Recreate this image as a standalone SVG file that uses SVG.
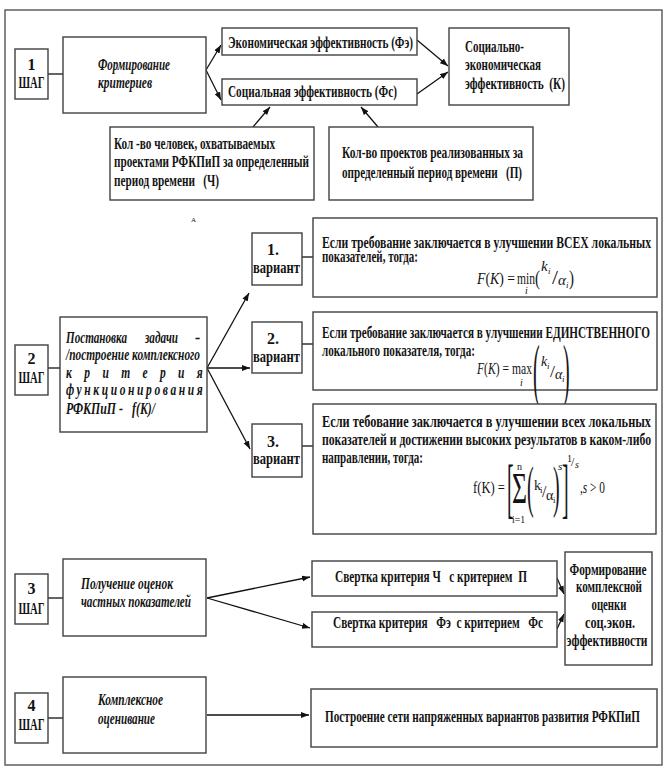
<svg xmlns="http://www.w3.org/2000/svg" width="667" height="775" viewBox="0 0 667 775">
<defs>
<marker id="ah" markerUnits="userSpaceOnUse" markerWidth="9" markerHeight="7" refX="8" refY="3" orient="auto">
<path d="M0,0 L8,3 L0,6 z" fill="#111"/>
</marker>
<style>
.bx{fill:#fff;stroke:#404040;stroke-width:1.4}
.fr{fill:none;stroke:#555;stroke-width:1.4}
text{font-family:"Liberation Serif","Times New Roman",serif;fill:#141414}
.b{font-weight:bold;font-size:16px}
.bi{font-weight:bold;font-style:italic;font-size:16px}
.m{font-size:17px}
.it{font-style:italic}
.p{white-space:pre}
.c{stroke:#111;stroke-width:1.3;fill:none}
.a{marker-end:url(#ah)}
</style>
</defs>
<rect width="667" height="775" fill="#fff"/>
<rect class="fr" x="5" y="10" width="657" height="755"/>

<g id="connectors">
<line class="c" x1="48" y1="74" x2="63" y2="74"/>
<line class="c a" x1="206" y1="70" x2="221" y2="45"/>
<line class="c a" x1="206" y1="70" x2="221" y2="100"/>
<line class="c a" x1="417" y1="40" x2="448" y2="66"/>
<line class="c a" x1="417" y1="94" x2="448" y2="72"/>
<line class="c a" x1="253" y1="127" x2="270" y2="107"/>
<line class="c a" x1="378" y1="127" x2="361" y2="107"/>
<line class="c" x1="48" y1="368" x2="60" y2="368"/>
<line class="c a" x1="207" y1="368" x2="249" y2="293"/>
<line class="c a" x1="207" y1="368" x2="250" y2="368"/>
<line class="c a" x1="207" y1="368" x2="250" y2="449"/>
<line class="c" x1="302" y1="257" x2="313" y2="257"/>
<line class="c" x1="302" y1="344" x2="313" y2="344"/>
<line class="c" x1="302" y1="446" x2="313" y2="446"/>
<line class="c" x1="48" y1="598" x2="63" y2="598"/>
<line class="c a" x1="207" y1="598" x2="310" y2="577"/>
<line class="c a" x1="207" y1="598" x2="310" y2="628"/>
<line class="c a" x1="557" y1="578" x2="564" y2="594"/>
<line class="c a" x1="557" y1="629" x2="564" y2="614"/>
<line class="c" x1="48" y1="718" x2="63" y2="718"/>
<line class="c a" x1="207" y1="715" x2="309" y2="715"/>
</g>

<g id="step1">
<rect class="bx" x="15" y="49" width="33" height="50"/>
<text class="b" x="31.5" y="70" text-anchor="middle">1</text>
<text class="b" x="31.5" y="88" text-anchor="middle" textLength="26" lengthAdjust="spacingAndGlyphs">ШАГ</text>
</g>
<g id="formation">
<rect class="bx" x="63" y="37" width="143" height="76"/>
<text class="bi" x="98" y="70" textLength="72" lengthAdjust="spacingAndGlyphs">Формирование</text>
<text class="bi" x="98" y="88" textLength="54" lengthAdjust="spacingAndGlyphs">критериев</text>
</g>
<g id="econ">
<rect class="bx" x="222" y="28" width="195" height="27"/>
<text class="b" x="228" y="48" textLength="185" lengthAdjust="spacingAndGlyphs">Экономическая эффективность (Фэ)</text>
</g>
<g id="social">
<rect class="bx" x="222" y="79" width="195" height="26"/>
<text class="b" x="228" y="97" textLength="169" lengthAdjust="spacingAndGlyphs">Социальная эффективность (Фс)</text>
</g>
<g id="socecon">
<rect class="bx" x="449" y="28" width="120" height="77"/>
<text class="b" x="465" y="52" textLength="59" lengthAdjust="spacingAndGlyphs">Социально-</text>
<text class="b" x="465" y="70" textLength="76" lengthAdjust="spacingAndGlyphs">экономическая</text>
<text class="b p" x="465" y="89" textLength="100" lengthAdjust="spacingAndGlyphs" xml:space="preserve">эффективность  (К)</text>
</g>
<g id="people">
<rect class="bx" x="110" y="127" width="204" height="73"/>
<text class="b" x="114" y="149" textLength="161" lengthAdjust="spacingAndGlyphs">Кол -во человек, охватываемых</text>
<text class="b" x="114" y="167" textLength="195" lengthAdjust="spacingAndGlyphs">проектами РФКПиП за определенный</text>
<text class="b p" x="114" y="186" textLength="105" lengthAdjust="spacingAndGlyphs" xml:space="preserve">период времени   (Ч)</text>
</g>
<g id="projects">
<rect class="bx" x="329" y="127" width="204" height="73"/>
<text class="b" x="342" y="158" textLength="181" lengthAdjust="spacingAndGlyphs">Кол-во проектов реализованных за</text>
<text class="b p" x="342" y="178" textLength="180" lengthAdjust="spacingAndGlyphs" xml:space="preserve">определенный период времени   (П)</text>
</g>
<text x="191" y="222" font-size="7">А</text>

<g id="step2">
<rect class="bx" x="15" y="345" width="33" height="50"/>
<text class="b" x="31.5" y="364" text-anchor="middle">2</text>
<text class="b" x="31.5" y="383" text-anchor="middle" textLength="26" lengthAdjust="spacingAndGlyphs">ШАГ</text>
</g>
<g id="task">
<rect class="bx" x="60" y="317" width="147" height="115"/>
<text class="bi" x="66" y="343" textLength="61" lengthAdjust="spacingAndGlyphs">Постановка</text>
<text class="bi" x="145" y="343" textLength="33" lengthAdjust="spacingAndGlyphs">задачи</text>
<text class="bi" x="195" y="343">-</text>
<text class="bi" x="66" y="360" textLength="134" lengthAdjust="spacingAndGlyphs">/построение комплексного</text>
<text class="bi" transform="translate(66,378) scale(0.72,1)" x="0" y="0" textLength="190" lengthAdjust="spacing">критерия</text>
<text class="bi" transform="translate(66,395) scale(0.72,1)" x="0" y="0" textLength="190" lengthAdjust="spacing">функционирования</text>
<text class="bi" x="66" y="414" textLength="57" lengthAdjust="spacingAndGlyphs">РФКПиП -</text>
<text class="bi" x="132" y="414" textLength="23" lengthAdjust="spacingAndGlyphs">f(K)/</text>
</g>
<g id="var1">
<rect class="bx" x="252" y="233" width="50" height="52"/>
<text class="b" x="273" y="255" text-anchor="middle">1.</text>
<text class="b" x="253" y="273" textLength="47" lengthAdjust="spacingAndGlyphs">вариант</text>
</g>
<g id="var2">
<rect class="bx" x="252" y="322" width="50" height="51"/>
<text class="b" x="273" y="344" text-anchor="middle">2.</text>
<text class="b" x="253" y="362" textLength="47" lengthAdjust="spacingAndGlyphs">вариант</text>
</g>
<g id="var3">
<rect class="bx" x="252" y="424" width="50" height="53"/>
<text class="b" x="273" y="447" text-anchor="middle">3.</text>
<text class="b" x="253" y="464" textLength="47" lengthAdjust="spacingAndGlyphs">вариант</text>
</g>
<g id="cond1">
<rect class="bx" x="313" y="218" width="344" height="79"/>
<text class="b" x="322" y="248" textLength="329" lengthAdjust="spacingAndGlyphs">Если требование заключается в улучшении ВСЕХ локальных</text>
<text class="b" x="322" y="262" textLength="96" lengthAdjust="spacingAndGlyphs">показателей, тогда:</text>
<text class="m" x="477" y="284" textLength="38" lengthAdjust="spacingAndGlyphs"><tspan class="it">F</tspan>(<tspan class="it">K</tspan>) =</text>
<text class="m" x="517" y="284" textLength="18" lengthAdjust="spacingAndGlyphs">min</text>
<text class="it" x="525" y="294" font-size="10">i</text>
<text x="535" y="285" font-size="22" textLength="5" lengthAdjust="spacingAndGlyphs">(</text>
<text class="it" x="541" y="271" font-size="15">k</text>
<text class="it" x="548" y="274" font-size="9">i</text>
<text x="552" y="284" font-size="18" textLength="6" lengthAdjust="spacingAndGlyphs">/</text>
<text class="it" x="558" y="285" font-size="15">α</text>
<text class="it" x="566" y="288" font-size="9">i</text>
<text x="569" y="285" font-size="22" textLength="5" lengthAdjust="spacingAndGlyphs">)</text>
</g>
<g id="cond2">
<rect class="bx" x="313" y="312" width="344" height="78"/>
<text class="b" x="322" y="338" textLength="328" lengthAdjust="spacingAndGlyphs">Если требование заключается в улучшении ЕДИНСТВЕННОГО</text>
<text class="b" x="322" y="356" textLength="153" lengthAdjust="spacingAndGlyphs">локального показателя, тогда:</text>
<text class="m" x="477" y="374" textLength="32" lengthAdjust="spacingAndGlyphs"><tspan class="it">F</tspan>(<tspan class="it">K</tspan>) =</text>
<text class="m" x="512" y="374" textLength="20" lengthAdjust="spacingAndGlyphs">max</text>
<text class="it" x="520" y="386" font-size="10">i</text>
<text transform="translate(533,393) scale(1,3.5)" font-size="20">(</text>
<text class="it" x="541" y="366" font-size="14">k</text>
<text class="it" x="547" y="369" font-size="9">i</text>
<text x="550" y="377" font-size="17" textLength="5" lengthAdjust="spacingAndGlyphs">/</text>
<text class="it" x="555" y="379" font-size="14">α</text>
<text class="it" x="562" y="382" font-size="9">i</text>
<text transform="translate(563,393) scale(1,3.5)" font-size="20">)</text>
</g>
<g id="cond3">
<rect class="bx" x="313" y="404" width="343" height="130"/>
<text class="b" x="322" y="427" textLength="329" lengthAdjust="spacingAndGlyphs">Если тебование заключается в улучшении всех локальных</text>
<text class="b" x="322" y="445" textLength="329" lengthAdjust="spacingAndGlyphs">показателей и достижении высоких результатов в каком-либо</text>
<text class="b" x="322" y="463" textLength="101" lengthAdjust="spacingAndGlyphs">направлении, тогда:</text>
<text class="m" x="473" y="493" textLength="32" lengthAdjust="spacingAndGlyphs">f(K) =</text>
<text transform="translate(507,510) scale(1,3.25)" font-size="20">[</text>
<text x="512" y="503" font-size="44" textLength="15" lengthAdjust="spacingAndGlyphs">Σ</text>
<text x="517" y="470" font-size="10">n</text>
<text x="512" y="523" font-size="10" textLength="13" lengthAdjust="spacingAndGlyphs">i=1</text>
<text transform="translate(527,506) scale(1,2.8)" font-size="20">(</text>
<text x="534" y="490" font-size="14">k</text>
<text x="540" y="493" font-size="9">i</text>
<text x="542" y="497" font-size="16">/</text>
<text x="546" y="500" font-size="14">α</text>
<text x="553" y="503" font-size="9">i</text>
<text transform="translate(553,506) scale(1,2.8)" font-size="20">)</text>
<text class="it" x="558" y="470" font-size="11">s</text>
<text transform="translate(562,510) scale(1,3.25)" font-size="20">]</text>
<text x="567" y="462" font-size="10">1</text>
<text x="571" y="466" font-size="12">/</text>
<text class="it" x="575" y="468" font-size="10">s</text>
<text class="m" x="580" y="493" textLength="25" lengthAdjust="spacingAndGlyphs">,<tspan class="it">s</tspan> &gt; 0</text>
</g>

<g id="step3">
<rect class="bx" x="15" y="574" width="33" height="50"/>
<text class="b" x="31.5" y="594" text-anchor="middle">3</text>
<text class="b" x="31.5" y="614" text-anchor="middle" textLength="26" lengthAdjust="spacingAndGlyphs">ШАГ</text>
</g>
<g id="estimates">
<rect class="bx" x="63" y="559" width="143" height="77"/>
<text class="bi" x="81" y="589" textLength="92" lengthAdjust="spacingAndGlyphs">Получение оценок</text>
<text class="bi" x="81" y="607" textLength="110" lengthAdjust="spacingAndGlyphs">частных показателей</text>
</g>
<g id="conv1">
<rect class="bx" x="312" y="561" width="245" height="35"/>
<text class="b p" x="335" y="582" textLength="192" lengthAdjust="spacingAndGlyphs" xml:space="preserve">Свертка критерия Ч   с критерием  П</text>
</g>
<g id="conv2">
<rect class="bx" x="312" y="612" width="245" height="35"/>
<text class="b p" x="333" y="628" textLength="210" lengthAdjust="spacingAndGlyphs" xml:space="preserve">Свертка критерия   Фэ  с критерием   Фс</text>
</g>
<g id="complex">
<rect class="bx" x="565" y="552" width="87" height="113"/>
<text class="b" x="608" y="575" text-anchor="middle" textLength="77" lengthAdjust="spacingAndGlyphs">Формирование</text>
<text class="b" x="609" y="592" text-anchor="middle" textLength="66" lengthAdjust="spacingAndGlyphs">комплексной</text>
<text class="b" x="609" y="610" text-anchor="middle" textLength="35" lengthAdjust="spacingAndGlyphs">оценки</text>
<text class="b" x="610" y="628" text-anchor="middle" textLength="50" lengthAdjust="spacingAndGlyphs">соц.экон.</text>
<text class="b" x="607" y="646" text-anchor="middle" textLength="81" lengthAdjust="spacingAndGlyphs">эффективности</text>
</g>

<g id="step4">
<rect class="bx" x="15" y="693" width="33" height="50"/>
<text class="b" x="31.5" y="711" text-anchor="middle">4</text>
<text class="b" x="31.5" y="730" text-anchor="middle" textLength="26" lengthAdjust="spacingAndGlyphs">ШАГ</text>
</g>
<g id="evaluation">
<rect class="bx" x="63" y="677" width="143" height="76"/>
<text class="bi" x="98" y="705" textLength="65" lengthAdjust="spacingAndGlyphs">Комплексное</text>
<text class="bi" x="98" y="724" textLength="57" lengthAdjust="spacingAndGlyphs">оценивание</text>
</g>
<g id="network">
<rect class="bx" x="311" y="689" width="346" height="58"/>
<text class="b" x="325" y="722" textLength="315" lengthAdjust="spacingAndGlyphs">Построение сети напряженных вариантов развития РФКПиП</text>
</g>
</svg>
